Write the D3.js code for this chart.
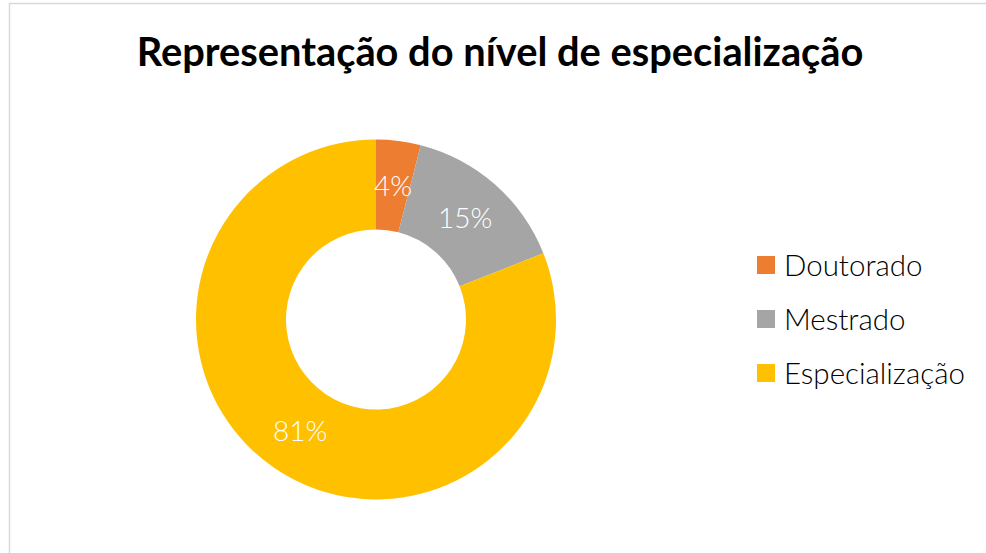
<!DOCTYPE html>
<html>
<head>
<meta charset="utf-8">
<script src="https://cdn.jsdelivr.net/npm/d3@7"></script>
<style>
  body { margin: 0; background: #fff; }
  text { font-family: Lato, "Open Sans", sans-serif; }
</style>
</head>
<body>
<svg id="chart" width="986" height="553"></svg>
<script>
const title = "Representação do nível de especialização"
const categories = ["Doutorado", "Mestrado", "Especialização"]
const values = [4, 15, 81]
const colors = ["#ED7D31", "#A5A5A5", "#FFC000"]

const svg = d3.select("#chart")
const width = 986, height = 553

// chart frame
svg.append("rect")
  .attr("x", 9.5).attr("y", 3.5)
  .attr("width", 990).attr("height", 560)
  .attr("fill", "#fff")
  .attr("stroke", "#d9d9d9")
  .attr("stroke-width", 1.5)

svg.append("text")
  .attr("x", 500).attr("y", 66)
  .attr("text-anchor", "middle")
  .attr("font-size", 39.8)
  .attr("font-weight", "bold")
  .attr("fill", "#000")
  .text(title)

const cx = 376, cy = 319.5
const outerR = 180, innerR = 90

const data = categories.map((c, i) => ({name: c, value: values[i]}))
const color = d3.scaleOrdinal().domain(categories).range(colors)

const pie = d3.pie().value(d => d.value).sort(null)
const arc = d3.arc().innerRadius(innerR).outerRadius(outerR)
const labelArc = d3.arc().innerRadius(135).outerRadius(135)

const g = svg.append("g").attr("transform", `translate(${cx},${cy})`)
const arcs = pie(data)

g.selectAll("path")
  .data(arcs)
  .join("path")
  .attr("d", arc)
  .attr("fill", d => color(d.data.name))

const total = d3.sum(values)
g.selectAll("text")
  .data(arcs)
  .join("text")
  .attr("transform", d => `translate(${labelArc.centroid(d)})`)
  .attr("text-anchor", "middle")
  .attr("dy", "0.36em")
  .attr("font-size", 28)
  .attr("font-weight", 300)
  .attr("fill", "#fff")
  .text(d => Math.round(d.data.value / total * 100) + "%")

// legend
const legend = svg.append("g").attr("transform", "translate(757,265)")
const rows = legend.selectAll("g")
  .data(categories)
  .join("g")
  .attr("transform", (d, i) => `translate(0,${i * 54})`)

rows.append("rect")
  .attr("x", 0).attr("y", -9)
  .attr("width", 18).attr("height", 18)
  .attr("fill", d => color(d))

rows.append("text")
  .attr("x", 27).attr("y", 0)
  .attr("dy", "0.36em")
  .attr("font-size", 29.5)
  .attr("font-weight", 300)
  .attr("fill", "#000")
  .text(d => d)
</script>
</body>
</html>
